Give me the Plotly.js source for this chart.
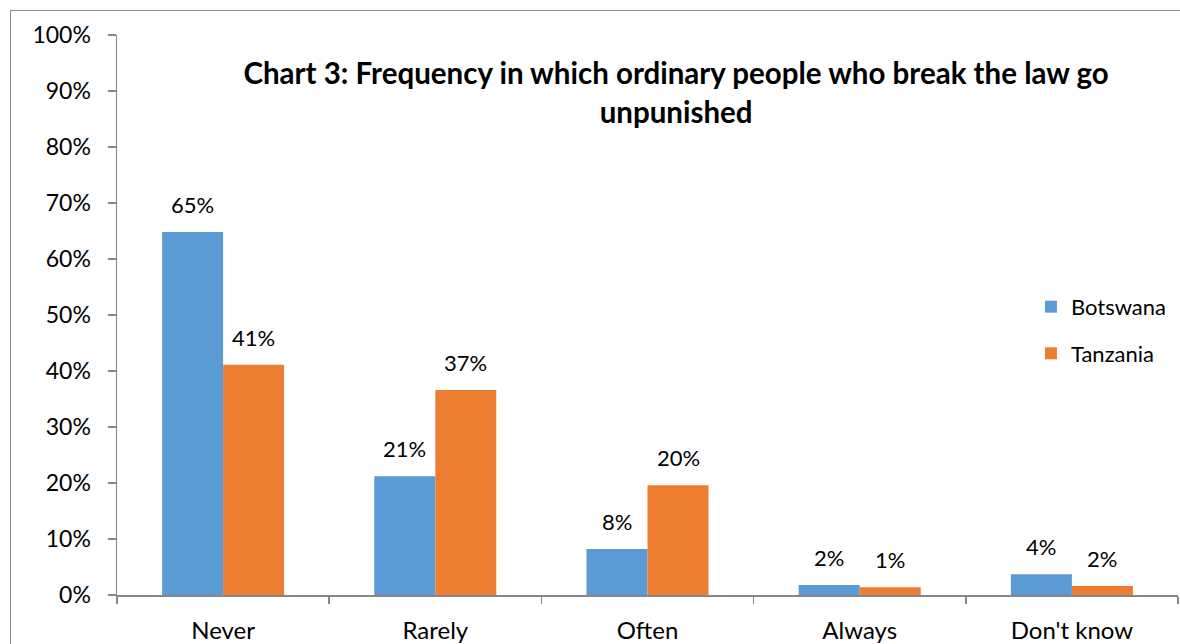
<!DOCTYPE html>
<html>
<head>
<meta charset="utf-8">
<script src="https://cdn.plot.ly/plotly-3.0.1.min.js"></script>
<style>
html,body{margin:0;padding:0;background:#fff;overflow:hidden;}
#wrap{position:relative;width:1180px;height:644px;overflow:hidden;}
#chart{width:1180px;height:644px;}
#frame{position:absolute;left:10px;top:10px;width:1170px;height:634px;border-left:1.5px solid #8c8c8c;border-top:1.5px solid #8c8c8c;pointer-events:none;box-sizing:border-box;}
</style>
</head>
<body>
<div id="wrap"><div id="chart"></div><div id="frame"></div></div>
<script>
const categories = ["Never", "Rarely", "Often", "Always", "Don't know"];
const botswana = [0.648, 0.212, 0.082, 0.018, 0.037];
const tanzania = [0.411, 0.366, 0.196, 0.014, 0.016];
const botswanaLabels = ["65%", "21%", "8%", "2%", "4%"];
const tanzaniaLabels = ["41%", "37%", "20%", "1%", "2%"];
const yTickVals = [0, 0.1, 0.2, 0.3, 0.4, 0.5, 0.6, 0.7, 0.8, 0.9, 1.0];
const yTickText = ["0%", "10%", "20%", "30%", "40%", "50%", "60%", "70%", "80%", "90%", "100%"];

const FONT = "Lato, 'Open Sans', sans-serif";

const traces = [
  {type: "bar", name: "Botswana", x: categories, y: botswana, marker: {color: "#5B9BD5"}, legendgroup: "a", hoverinfo: "none"},
  {type: "bar", name: "Tanzania", x: categories, y: tanzania, marker: {color: "#ED7D31"}, legendgroup: "b", hoverinfo: "none"}
];

const annotations = [];
categories.forEach((c, i) => {
  annotations.push({x: c, y: botswana[i], text: botswanaLabels[i], showarrow: false, xshift: -30.5, yshift: 12, yanchor: "bottom", font: {family: FONT, size: 22, color: "#000"}});
  annotations.push({x: c, y: tanzania[i], text: tanzaniaLabels[i], showarrow: false, xshift: 30.5, yshift: 12, yanchor: "bottom", font: {family: FONT, size: 22, color: "#000"}});
});

const layout = {
  width: 1180, height: 644,
  margin: {l: 117, r: 2, t: 35, b: 49, pad: 0},
  paper_bgcolor: "#fff", plot_bgcolor: "#fff",
  font: {family: FONT, size: 22, color: "#000"},
  title: {
    text: "<b>Chart 3: Frequency in which ordinary people who break the law go<br>unpunished</b>",
    font: {family: FONT, size: 29.5, color: "#000"},
    x: 0.573, xanchor: "center", y: 0.869, yanchor: "top"
  },
  barmode: "group", bargap: 0.425, bargroupgap: 0,
  xaxis: {
    type: "category", showgrid: false, zeroline: false,
    showline: true, linecolor: "#868686", linewidth: 1.5,
    ticks: "outside", tickson: "boundaries", ticklen: 7, tickcolor: "#868686", tickwidth: 1.5,
    ticklabelstandoff: 14,
    tickfont: {family: FONT, size: 24, color: "#000"}
  },
  yaxis: {
    range: [0, 1], showgrid: false, zeroline: false,
    showline: true, linecolor: "#868686", linewidth: 1.5,
    ticks: "outside", ticklen: 8, tickcolor: "#868686", tickwidth: 1.5,
    ticklabelstandoff: 12,
    tickvals: yTickVals, ticktext: yTickText,
    tickfont: {family: FONT, size: 23, color: "#000"}
  },
  showlegend: true,
  legend: {
    x: 0.8614, xanchor: "left", y: 0.552, yanchor: "top",
    font: {family: FONT, size: 22, color: "#000"},
    tracegroupgap: 15, bgcolor: "rgba(0,0,0,0)", traceorder: "grouped"
  },
  annotations: annotations
};

Plotly.newPlot("chart", traces, layout, {staticPlot: true, displayModeBar: false});
</script>
</body>
</html>
